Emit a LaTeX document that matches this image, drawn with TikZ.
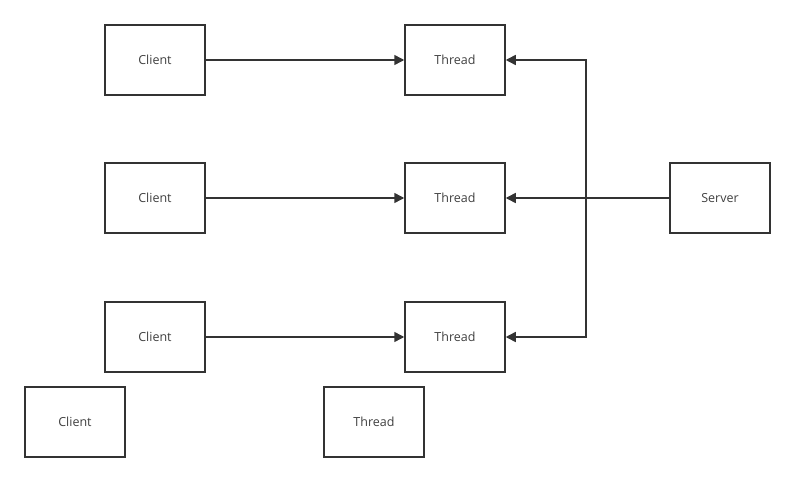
\documentclass[tikz,border=0pt]{standalone}
\usepackage{fontspec}
\setmainfont{Open Sans}
\usetikzlibrary{arrows.meta}

\begin{document}
\begin{tikzpicture}[
x=1pt,y=-1pt,
box/.style={
  draw=black!80,
  line width=1.5pt,
  minimum width=100pt,
  minimum height=70pt,
  text=black!75,
  font=\fontsize{12.5}{14}\selectfont
},
link/.style={
  draw=black!80,
  line width=1.5pt,
  -{Triangle[length=10pt,width=10pt]}
}
]
\useasboundingbox (0,0) rectangle (795,481);

\node[box] (c1) at (155,60) {Client};
\node[box] (c2) at (155,198) {Client};
\node[box] (c3) at (155,337) {Client};
\node[box] (c4) at (75,422) {Client};

\node[box] (t1) at (455,60) {Thread};
\node[box] (t2) at (455,198) {Thread};
\node[box] (t3) at (455,337) {Thread};
\node[box] (t4) at (374,422) {Thread};

\node[box] (srv) at (720,198) {Server};

\coordinate (bus) at (586,198);

\draw[link] (c1) -- (t1);
\draw[link] (c2) -- (t2);
\draw[link] (c3) -- (t3);

\draw[link] (srv) -- (t2);
\draw[link] (bus) |- (t1);
\draw[link] (bus) |- (t3);
\end{tikzpicture}
\end{document}
